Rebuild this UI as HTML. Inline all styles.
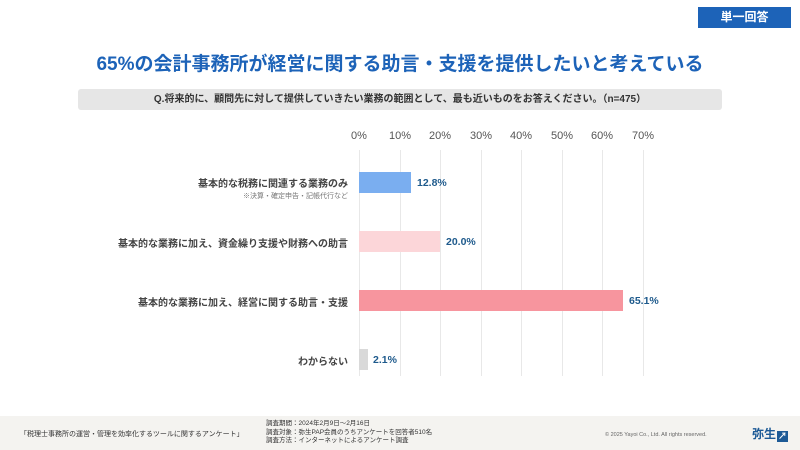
<!DOCTYPE html>
<html><head><meta charset="utf-8"><style>
*{margin:0;padding:0;box-sizing:border-box}
body{width:800px;height:450px;background:#fff;font-family:"Liberation Sans","Noto Sans CJK JP",sans-serif;position:relative;overflow:hidden}
.abs{position:absolute}
.badge{left:698px;top:7px;width:93px;height:21px;background:#1d63b8;color:#fff;font-size:12px;font-weight:bold;text-align:center;line-height:21px}
.title{left:0;width:800px;top:49px;text-align:center;color:#1d63b8;font-size:19px;font-weight:bold}
.q{left:78px;top:89px;width:644px;height:21px;background:#e6e6e6;border-radius:3px;font-size:10px;font-weight:bold;color:#333;text-align:center;line-height:21px}
.tick{top:130px;font-size:11px;color:#555;width:40px;margin-left:-20px;text-align:center}
.grid{top:150px;height:226px;width:1px;background:#e8e8e8}
.lab{right:452px;font-size:10px;font-weight:bold;color:#444;text-align:right;white-space:nowrap}
.bar{left:359px;height:21px}
.val{font-size:10.5px;font-weight:bold;color:#1e5a8c}
.foot{left:0;top:416px;width:800px;height:34px;background:#f4f3f0}
</style></head><body>
<div class="abs badge">単一回答</div>
<div class="abs title">65%の会計事務所が経営に関する助言・支援を提供したいと考えている</div>
<div class="abs q">Q.将来的に、顧問先に対して提供していきたい業務の範囲として、最も近いものをお答えください。（n=475）</div>
<div class="abs grid" style="left:359px"></div>
<div class="abs grid" style="left:400px"></div>
<div class="abs grid" style="left:440px"></div>
<div class="abs grid" style="left:481px"></div>
<div class="abs grid" style="left:521px"></div>
<div class="abs grid" style="left:562px"></div>
<div class="abs grid" style="left:602px"></div>
<div class="abs grid" style="left:643px"></div>
<div class="abs tick" style="left:359px">0%</div>
<div class="abs tick" style="left:400px">10%</div>
<div class="abs tick" style="left:440px">20%</div>
<div class="abs tick" style="left:481px">30%</div>
<div class="abs tick" style="left:521px">40%</div>
<div class="abs tick" style="left:562px">50%</div>
<div class="abs tick" style="left:602px">60%</div>
<div class="abs tick" style="left:643px">70%</div>

<div class="abs lab" style="top:175px">基本的な税務に関連する業務のみ</div>
<div class="abs lab" style="top:191px;font-size:7px;font-weight:normal;color:#777">※決算・確定申告・記帳代行など</div>
<div class="abs bar" style="top:172px;width:52px;background:#7aaef0"></div>
<div class="abs val" style="left:417px;top:177px">12.8%</div>

<div class="abs lab" style="top:235px">基本的な業務に加え、資金繰り支援や財務への助言</div>
<div class="abs bar" style="top:231px;width:81px;background:#fcd6d9"></div>
<div class="abs val" style="left:446px;top:236px">20.0%</div>

<div class="abs lab" style="top:294px">基本的な業務に加え、経営に関する助言・支援</div>
<div class="abs bar" style="top:290px;width:264px;background:#f7959e"></div>
<div class="abs val" style="left:629px;top:295px">65.1%</div>

<div class="abs lab" style="top:353px">わからない</div>
<div class="abs bar" style="top:349px;width:9px;background:#d9d9d9"></div>
<div class="abs val" style="left:373px;top:354px">2.1%</div>

<div class="abs foot"></div>
<div class="abs" style="left:20px;top:429px;font-size:7px;color:#333;white-space:nowrap">「税理士事務所の運営・管理を効率化するツールに関するアンケート」</div>
<div class="abs" style="left:266px;top:420px;font-size:6.5px;color:#333;line-height:8.5px;white-space:nowrap">調査期間：2024年2月9日～2月16日<br>調査対象：弥生PAP会員のうちアンケートを回答者510名<br>調査方法：インターネットによるアンケート調査</div>
<div class="abs" style="left:605px;top:432px;font-size:5.5px;color:#666">© 2025 Yayoi Co., Ltd. All rights reserved.</div>
<div class="abs" style="left:752px;top:425px;font-size:12px;font-weight:bold;color:#1d5a96">弥生<span style="display:inline-block;width:11px;height:11px;background:#1d5a96;color:#fff;font-size:9px;line-height:11px;text-align:center;vertical-align:-1px;margin-left:1px">↗</span></div>
</body></html>
